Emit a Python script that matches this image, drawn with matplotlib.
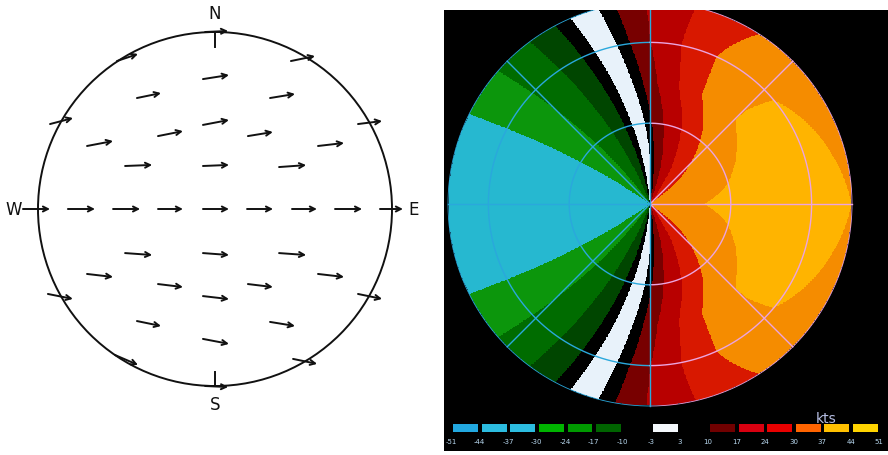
import numpy as np
import matplotlib
matplotlib.use("Agg")
import matplotlib.pyplot as plt
from matplotlib.colors import ListedColormap, BoundaryNorm
from matplotlib.patches import Circle, Rectangle

# ---------------- left: wind arrows (circle radius = 1) ----------------
# tail position and arrow components
arrow_x = [-0.068, -0.441, 0.311, -0.068, -0.322, 0.186, -0.723, 0.582,
           -0.508, -0.068, 0.362,
           -1.085, -0.831, -0.576, -0.322, -0.068, 0.181, 0.435, 0.678, 0.932,
           -0.508, -0.068, 0.362, -0.723, 0.582, -0.322, 0.186, -0.068,
           -0.441, 0.311, -0.068,
           -0.056, -0.554, 0.429, -0.932, 0.808,
           -0.944, 0.808, -0.565, 0.441, -0.056]
arrow_y = [0.734, 0.627, 0.627, 0.475, 0.412, 0.412, 0.356, 0.356,
           0.243, 0.243, 0.237,
           0.0, 0.0, 0.0, 0.0, 0.0, 0.0, 0.0, 0.0, 0.0,
           -0.249, -0.249, -0.249, -0.367, -0.367, -0.424, -0.424, -0.492,
           -0.633, -0.638, -0.734,
           1.0, 0.836, 0.836, 0.480, 0.480,
           -0.480, -0.480, -0.825, -0.847, -1.0]
arrow_u = [0.147, 0.136, 0.141, 0.147, 0.141, 0.141, 0.147, 0.147,
           0.153, 0.147, 0.153,
           0.153, 0.153, 0.153, 0.141, 0.147, 0.147, 0.141, 0.153, 0.130,
           0.153, 0.147, 0.153, 0.147, 0.147, 0.141, 0.141, 0.147,
           0.136, 0.141, 0.147,
           0.130, 0.119, 0.136, 0.130, 0.136,
           0.141, 0.136, 0.130, 0.136, 0.130]
arrow_v = [0.023, 0.028, 0.023, 0.028, 0.028, 0.023, 0.028, 0.017,
           0.006, 0.006, 0.011,
           0.0, 0.0, 0.0, 0.0, 0.0, 0.0, 0.0, 0.0, 0.0,
           -0.011, -0.011, -0.011, -0.017, -0.017, -0.017, -0.017, -0.017,
           -0.028, -0.023, -0.028,
           0.006, 0.040, 0.028, 0.034, 0.017,
           -0.028, -0.028, -0.056, -0.028, -0.006]

compass = ["N", "S", "W", "E"]
compass_x = [0.0, 0.0, -1.136, 1.122]
compass_y = [1.107, -1.10, 0.0, 0.0]

# ---------------- right: Doppler velocity display ----------------
kts_edges = [-51, -44, -37, -30, -24, -17, -10, -3, 3, 10, 17, 24, 30, 37, 44, 51]
kts_colors = ["#26b8d0", "#26b8d0", "#26b8d0", "#0c960c", "#006c00", "#004600",
              "#000000", "#e8f2fa", "#000000",
              "#780000", "#b80000", "#d81800", "#f58c00", "#ffb400", "#ffbe00"]
legend_colors = ["#22a8e0", "#2cbce0", "#2cbce0", "#00b400", "#009a00", "#006400",
                 "#000000", "#f4f8fc", "#000000",
                 "#700000", "#d80010", "#e80000", "#ff6400", "#ffc000", "#ffd400"]
# fraction of full speed seen by the radar vs. angle from the wind axis
psi_knots = [0, 35, 55, 70, 80, 85, 90]
psi_share = [1.0, 0.86, 0.68, 0.48, 0.28, 0.09, 0.0]
# wind speed (kts) vs. range, approaching and receding halves
ring_range = [0.0, 0.2, 0.4, 0.6, 0.8, 1.0]
speed_toward = [35, 35, 35, 35, 35, 35]
speed_away = [35, 36, 39, 43.5, 42, 37]
turn_deg = 20                             # wind turns toward north with y

W, H = 888, 456
fig = plt.figure(figsize=(W / 100, H / 100), dpi=100)
fig.patch.set_facecolor("white")

# left axes in circle units
cx, cy, sc = 215, 210, 177
ax1 = fig.add_axes([0, 0, 440 / W, 1])
ax1.set_xlim(-cx / sc, (440 - cx) / sc)
ax1.set_ylim((cy - H) / sc, cy / sc)
ax1.axis("off")
ax1.add_patch(Circle((0, 0), 1.0, fill=False, lw=1.4, color="#111111"))
ax1.plot([0, 0], [0.994, 0.915], color="#111111", lw=1.4)
ax1.plot([0, 0], [-0.921, -1.0], color="#111111", lw=1.4)
for x, y, u, v in zip(arrow_x, arrow_y, arrow_u, arrow_v):
    ax1.annotate("", xy=(x + u, y + v), xytext=(x, y),
                 arrowprops=dict(arrowstyle="->", lw=1.4, color="#111111",
                                 mutation_scale=9, shrinkA=0, shrinkB=0))
for t, x, y in zip(compass, compass_x, compass_y):
    ax1.text(x, y, t, fontsize=12, ha="center", va="center", color="#111111")

# right axes in radar-range units (outer edge = 1)
rx0, ry0, rs = 650, 205, 202
px0, px1, py0, py1 = 444, 888, 11, 452
ax2 = fig.add_axes([px0 / W, (H - py1) / H, (px1 - px0) / W, (py1 - py0) / H])
ax2.set_facecolor("black")
ax2.set_xlim((px0 - rx0) / rs, (px1 - rx0) / rs)
ax2.set_ylim((ry0 - py1) / rs, (ry0 - py0) / rs)
ax2.set_xticks([])
ax2.set_yticks([])
for s in ax2.spines.values():
    s.set_visible(False)

n = 600
g = np.linspace(-1, 1, n)
X, Y = np.meshgrid(g, g)
R = np.hypot(X, Y)
theta = np.degrees(np.arctan2(Y, X))
psi = (theta - turn_deg * Y + 180) % 360 - 180      # angle from downwind
away = np.abs(psi) < 90
off_axis = np.where(away, np.abs(psi), 180 - np.abs(psi))
share = np.interp(off_axis, psi_knots, psi_share)
speed = np.where(away, np.interp(R, ring_range, speed_away),
                 -np.interp(R, ring_range, speed_toward))
vel = np.clip(speed * share, -50.9, 50.9)
vel = np.ma.masked_where(R > 1.0, vel)

cmap = ListedColormap(kts_colors)
cmap.set_bad((0, 0, 0, 0))
norm = BoundaryNorm(kts_edges, cmap.N)
ax2.imshow(vel, extent=(-1, 1, -1, 1), origin="lower", cmap=cmap, norm=norm,
           interpolation="nearest")

cyan_line = "#2aa8dc"
pink_line = "#eca4e0"
t_left = np.linspace(90, 270, 200)
t_right = np.linspace(-90, 90, 200)
for rr in [0.4, 0.8, 1.0]:
    lw = 1.0 if rr < 1 else 0.6
    ax2.plot(rr * np.cos(np.radians(t_left)), rr * np.sin(np.radians(t_left)),
             color=cyan_line, lw=lw)
    ax2.plot(rr * np.cos(np.radians(t_right)), rr * np.sin(np.radians(t_right)),
             color=pink_line, lw=lw)
for ang in [0, 45, -45]:
    a = np.radians(ang)
    ax2.plot([0, np.cos(a)], [0, np.sin(a)], color=pink_line, lw=1.0)
for ang in [135, 180, 225]:
    a = np.radians(ang)
    ax2.plot([0, np.cos(a)], [0, np.sin(a)], color=cyan_line, lw=1.0)
ax2.plot([0, 0], [-1, 1], color=cyan_line, lw=1.0)

# colour scale along the bottom
tr = ax2.transAxes
bx0, bstep, bw = 0.021, 0.0643, 0.056
for i, col in enumerate(legend_colors):
    ax2.add_patch(Rectangle((bx0 + i * bstep, 0.043), bw, 0.018, transform=tr,
                            facecolor=col, edgecolor="none"))
for j, val in enumerate(kts_edges):
    ax2.text(bx0 - 0.005 + j * bstep, 0.022, str(val), transform=tr,
             fontsize=5, color="#b8d8f0", ha="center", va="center")
ax2.text(0.86, 0.075, "kts", transform=tr, fontsize=10, color="#b4bce0",
         ha="center", va="center")

fig.savefig("out.png", dpi=100, facecolor="white")
